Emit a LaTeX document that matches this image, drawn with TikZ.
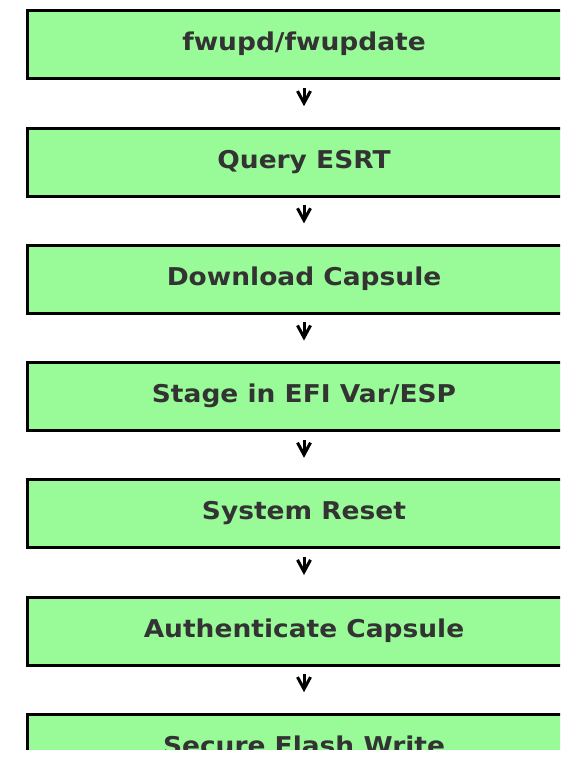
\documentclass[tikz,border=0pt]{standalone}
\usepackage{fontspec}
\setmainfont{DejaVu Sans}
\newfontfamily\boxfont{DejaVu Sans}[FakeStretch=1.08]
\usetikzlibrary{arrows.meta}
\definecolor{boxfill}{HTML}{98FB98}
\definecolor{boxtext}{HTML}{333333}
\begin{document}
\begin{tikzpicture}[x=1pt,y=-1pt,
  stepbox/.style={draw=black, line width=3pt, fill=boxfill,
    minimum width=554pt, minimum height=68pt, inner sep=0pt, outer sep=0pt,
    text=boxtext, text height=18pt, text depth=6pt,
    font=\boxfont\bfseries\fontsize{24.5}{28}\selectfont},
  flow/.style={-{Straight Barb[length=12pt,width=13pt,line width=3pt]},
    line width=3pt, shorten <=9pt, shorten >=22pt}]
\useasboundingbox (0,0) rectangle (560,757);
\begin{scope}
  \clip (0,0) rectangle (560,749);
  \node[stepbox] (b1) at (304,45.0)  {fwupd/fwupdate};
  \node[stepbox] (b2) at (304,162.2) {Query ESRT};
  \node[stepbox] (b3) at (304,279.4) {Download Capsule};
  \node[stepbox] (b4) at (304,396.6) {Stage in EFI Var/ESP};
  \node[stepbox] (b5) at (304,513.8) {System Reset};
  \node[stepbox] (b6) at (304,631.0) {Authenticate Capsule};
  \node[stepbox] (b7) at (304,748.2) {Secure Flash Write};
  \draw[flow] (b1) -- (b2);
  \draw[flow] (b2) -- (b3);
  \draw[flow] (b3) -- (b4);
  \draw[flow] (b4) -- (b5);
  \draw[flow] (b5) -- (b6);
  \draw[flow] (b6) -- (b7);
\end{scope}
\end{tikzpicture}
\end{document}
